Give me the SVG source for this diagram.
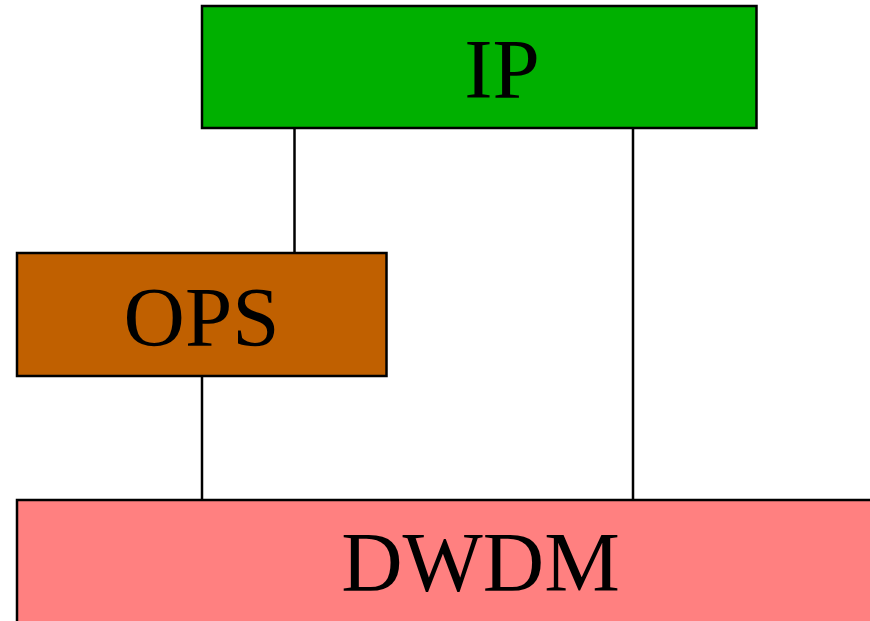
<svg xmlns="http://www.w3.org/2000/svg" width="870" height="621" viewBox="0 0 870 621">
<style>
.box{stroke:#000;stroke-width:2.5}
.lbl{font-family:"Liberation Serif","Times New Roman",serif;font-size:85px;fill:#000;text-anchor:middle}
.conn{stroke:#000;stroke-width:2.5;fill:none}
</style>
<rect width="870" height="621" fill="#fff"/>
<g id="connectors">
<line class="conn" x1="294.5" y1="128" x2="294.5" y2="253"/>
<line class="conn" x1="633" y1="128" x2="633" y2="500"/>
<line class="conn" x1="202" y1="376" x2="202" y2="500"/>
</g>
<g id="ip">
<rect class="box" x="202" y="6" width="554.5" height="122" fill="#00b000"/>
<text class="lbl" x="502" y="98">IP</text>
</g>
<g id="ops">
<rect class="box" x="17" y="253" width="369.5" height="123" fill="#c06000"/>
<text class="lbl" x="201.5" y="346">OPS</text>
</g>
<g id="dwdm">
<rect class="box" x="17" y="500" width="927" height="123" fill="#ff8080"/>
<text class="lbl" x="480.5" y="591">DWDM</text>
</g>
</svg>
